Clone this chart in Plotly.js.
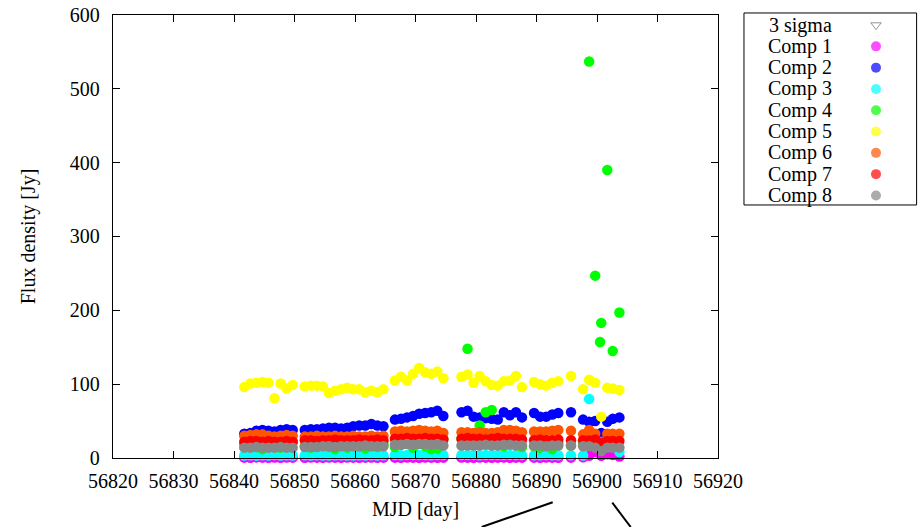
<!DOCTYPE html>
<html>
<head>
<meta charset="utf-8">
<script src="https://cdn.plot.ly/plotly-3.0.1.min.js"></script>
<style>html,body{margin:0;padding:0;background:#fff}#chart{width:921px;height:527px}</style>
</head>
<body>
<div id="chart"></div>
<script>
// Epochs (MJD)
const mjd = [
  56841.7,56842.7,56843.7,56844.7,56845.7,56846.7,56847.7,56848.7,56849.7,
  56851.7,56852.7,56853.7,56854.7,56855.7,56856.7,56857.7,56858.7,56859.7,56860.7,56861.7,56862.7,56863.7,56864.7,
  56866.6,56867.6,56868.6,56869.6,56870.6,56871.6,56872.6,56873.6,56874.6,
  56877.6,56878.6,56879.6,56880.6,56881.6,56882.6,56883.6,56884.6,56885.6,56886.6,56887.6,
  56889.6,56890.6,56891.6,56892.6,56893.6,
  56895.7,
  56897.7,56898.7,56899.7,56900.5,56900.7,56901.7,56902.6,56903.7
];
const comp1 = [
  0.5,0.3,0.8,0.5,0.2,0.6,0.4,0.7,0.5,
  0.4,0.6,0.5,0.3,0.7,0.5,0.4,0.6,0.5,0.3,0.5,0.6,0.4,0.5,
  0.5,0.4,0.6,0.5,0.3,0.6,0.5,0.4,0.5,
  0.6,0.5,0.4,0.6,0.5,0.3,0.5,0.6,0.4,0.5,0.5,
  0.5,0.4,0.6,0.5,0.4,
  0.5,
  1,3,8,null,3,5,4,2
];
const comp2 = [
  33,34,37,38,37,36,38,39,38,
  38,39,39,40,41,41,40,41,43,44,44,46,44,43,
  52,53,55,57,60,61,62,64,57,
  62,64,56,55,54,53,52,62,58,62,55,
  61,56,56,59,61,
  62,
  52,49,50,null,34,49,53,55
];
const comp3 = [
  3.5,3.8,3.2,3.6,3.5,3.9,3.4,3.6,3.5,
  3.6,3.4,3.7,3.5,3.3,3.6,3.8,3.5,3.4,3.6,3.5,3.7,3.4,3.6,
  4,3.8,4.2,3.9,4.1,4,3.8,4,4.1,
  3.9,4,4.2,3.8,4,4.1,3.9,4,4.2,4,3.9,
  3.8,3.6,3.9,3.7,3.8,
  3.6,
  3.5,80,null,null,null,22,null,8
];
const comp4 = [
  18,22,15,12,20,16,14,20,22,
  16,14,22,18,15,12,20,14,18,16,13,17,15,19,
  15,18,20,14,22,16,12,13,26,
  26,148,20,44,62,65,18,16,20,18,15,
  16,14,18,12,20,
  17,
  20,537,247,157,183,390,145,197
];
const comp5 = [
  96,101,102,103,102,81,101,94,99,
  97,98,98,97,88,91,93,95,93,93,89,91,89,93,
  105,110,105,114,122,116,114,117,108,
  110,113,102,111,104,99,98,104,105,111,96,
  103,100,98,102,104,
  111,
  93,106,102,null,56,95,94,92
];
const comp6 = [
  30,31,32,32,30,29,30,31,30,
  29,29,30,29,29,30,29,29,30,29,29,30,29,30,
  36,37,36,37,38,37,36,37,34,
  35,35,34,35,34,34,35,38,38,37,35,
  36,36,36,37,38,
  37,
  32,38,33,null,22,33,33,33
];
const comp7 = [
  22,23,23,22,23,22,22,23,22,
  24,24,23,24,24,25,24,24,24,25,24,24,25,24,
  26,26,27,26,26,27,26,26,25,
  26,27,26,26,25,26,27,26,26,26,25,
  24,25,24,24,25,
  24,
  24,24,25,null,20,23,23,23
];
const comp8 = [
  14,14,15,14,14,14,15,14,14,
  15,15,15,16,16,15,16,16,16,16,17,16,16,16,
  18,18,19,18,19,19,18,19,17,
  17,17,17,17,18,17,17,18,18,17,17,
  17,17,16,17,17,
  17,
  16,16,14,null,9.5,14,14,14
];
const seriesNames = ['Comp 1','Comp 2','Comp 3','Comp 4','Comp 5','Comp 6','Comp 7','Comp 8'];
const seriesColors = ['#ff00ff','#0000ff','#00ffff','#00ff00','#ffff00','#ff5500','#ff0000','#888888'];
const legendLabels = ['3 sigma'].concat(seriesNames);
const xTicks = [56820,56830,56840,56850,56860,56870,56880,56890,56900,56910,56920];
const yTicks = [0,100,200,300,400,500,600];

const comps = [comp1,comp2,comp3,comp4,comp5,comp6,comp7,comp8];
const FONT = 'Liberation Serif, Times New Roman, serif';

const traces = comps.map((ys, k) => ({
  type: 'scatter', mode: 'markers', x: mjd, y: ys, name: seriesNames[k],
  marker: {color: seriesColors[k], size: 10.5, line: {width: 0}},
  cliponaxis: false, showlegend: false, hoverinfo: 'skip', xaxis: 'x', yaxis: 'y'
}));

// custom legend (symbol on right, text right-aligned, gnuplot style)
const legRows = legendLabels.map((_, i) => i);
traces.push({
  type: 'scatter', mode: 'markers', xaxis: 'x2', yaxis: 'y2',
  x: legRows.map(() => 876), y: legRows,
  marker: {
    symbol: legRows.map(i => i === 0 ? 'triangle-down-open' : 'circle'),
    color: ['#666666'].concat(seriesColors),
    size: legRows.map(i => i === 0 ? 9 : 10),
    line: {width: legRows.map(i => i === 0 ? 1 : 0), color: '#666666'}
  },
  showlegend: false, hoverinfo: 'skip', cliponaxis: false
});

const annotations = legendLabels.map((t, i) => ({
  xref: 'x2', yref: 'y2', x: 834, y: i, text: t, showarrow: false,
  xanchor: 'right', yanchor: 'middle', font: {family: FONT, size: 20, color: '#000'}
}));

const axisCommon = {
  showline: true, linecolor: '#000', linewidth: 1.2, mirror: 'ticks',
  ticks: 'inside', ticklen: 7, tickwidth: 1, tickcolor: '#000',
  showgrid: false, zeroline: false,
  tickfont: {family: FONT, size: 20, color: '#000'}
};

const layout = {
  width: 921, height: 527,
  margin: {l: 113, r: 4, t: 12, b: 69},
  paper_bgcolor: '#fff', plot_bgcolor: '#fff',
  font: {family: FONT, size: 20, color: '#000'},
  xaxis: Object.assign({}, axisCommon, {
    domain: [0, 0.7525], range: [56820, 56920], tickvals: xTicks, tickformat: 'd',
    ticklabelstandoff: 5, anchor: 'y',
    title: {text: 'MJD [day]', standoff: 10, font: {family: FONT, size: 20, color: '#000'}}
  }),
  yaxis: Object.assign({}, axisCommon, {
    domain: [0, 0.9933], range: [0, 600], tickvals: yTicks, tickformat: 'd',
    ticklabelstandoff: 8, anchor: 'x',
    title: {text: 'Flux density [Jy]', standoff: 28, font: {family: FONT, size: 20, color: '#000'}}
  }),
  xaxis2: {domain: [0.7848, 1], range: [744, 917], visible: false, anchor: 'y2', fixedrange: true},
  yaxis2: {domain: [0.5648, 0.9946], range: [8.5, -0.5], visible: false, anchor: 'x2', fixedrange: true},
  annotations: annotations,
  shapes: [
    {type: 'rect', xref: 'paper', yref: 'paper', x0: 0.7848, x1: 0.9995, y0: 0.5673, y1: 0.9978,
     line: {color: '#000', width: 1}, fillcolor: 'rgba(0,0,0,0)'},
    {type: 'line', xref: 'paper', yref: 'paper', x0: 0.5469, y0: -0.0993, x1: 0.4586, y1: -0.1547,
     line: {color: '#000', width: 2}},
    {type: 'line', xref: 'paper', yref: 'paper', x0: 0.6210, y0: -0.1002, x1: 0.6439, y1: -0.1547,
     line: {color: '#000', width: 2}}
  ],
  showlegend: false
};

Plotly.newPlot('chart', traces, layout, {staticPlot: true, displayModeBar: false});
</script>
</body>
</html>
